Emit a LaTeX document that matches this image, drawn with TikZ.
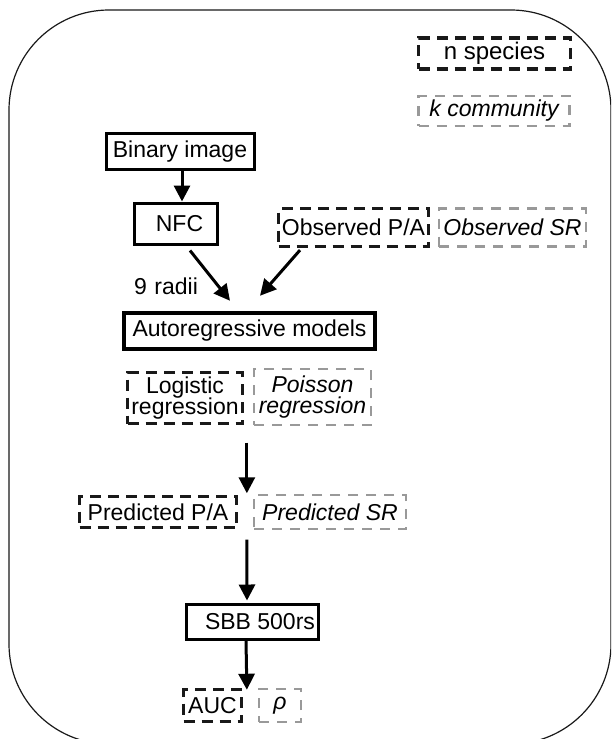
\documentclass[tikz,border=0pt]{standalone}
\usepackage{fontspec}
\setmainfont{Liberation Sans}
\usetikzlibrary{arrows.meta,calc}
\begin{document}
\begin{tikzpicture}[x=1pt,y=-1pt,
  every node/.style={font=\fontsize{23}{21.5}\selectfont, inner sep=0pt, align=center},
  solidbox/.style={draw=black, line width=3pt, rectangle},
  thickbox/.style={draw=black, line width=4.5pt, rectangle},
  blkdash/.style={draw=black!90, line width=3.2pt, dash pattern=on 11pt off 7pt},
  grydash/.style={draw=black!40, line width=2.7pt, dash pattern=on 10pt off 8pt, font=\fontsize{23}{21.5}\selectfont\itshape},
  arr/.style={line width=3pt, -{Triangle[width=16pt,length=16pt]}},
  frame/.style={draw=black!90, line width=1.2pt, rounded corners=100pt},
]
\useasboundingbox (0,0) rectangle (611,739);
\clip (0,0) rectangle (611,739);
\draw[frame] (9,10) rectangle (611,744);

% legend
\node[blkdash, minimum width=152pt, minimum height=31pt] (nsp) at (494.5,53.5) {\fontsize{24}{24}\selectfont n species};
\node[grydash, minimum width=151pt, minimum height=30pt] (kcom) at (494,111) {k community};

% flow
\node[solidbox, minimum width=148pt, minimum height=36pt] (bin) at (180,151.5) {Binary image};
\node[solidbox, minimum width=83pt, minimum height=41pt] (nfc) at (175.5,223.5) {\hspace*{8pt}NFC};
\node[blkdash, minimum width=150pt, minimum height=38pt] (obspa) at (353.5,227.5) {Observed P/A};
\node[grydash, minimum width=147pt, minimum height=38pt] (obssr) at (512.5,227.5) {Observed SR};
\node (radii) at (166,286) {9\,\,radii};
\node[thickbox, minimum width=251pt, minimum height=36pt] (auto) at (249.5,331) {Autoregressive models};
\node[blkdash, minimum width=115pt, minimum height=51pt] (log) at (185,398) {Logistic\\regression};
\node[grydash, minimum width=117pt, minimum height=56pt] (poi) at (312.5,397) {Poisson\\regression};
\node[blkdash, minimum width=157pt, minimum height=31pt] (predpa) at (158,512) {Predicted P/A};
\node[grydash, minimum width=152pt, minimum height=34pt] (predsr) at (330,512) {Predicted SR};
\node[solidbox, minimum width=132pt, minimum height=35pt] (sbb) at (252,621.5) {\hspace*{16pt}SBB 500rs};
\node[blkdash, minimum width=58pt, minimum height=32pt] (auc) at (212.5,705.5) {AUC};
\node[grydash, minimum width=42pt, minimum height=33pt] (rho) at (280,705.5) {ρ};

% connectors
\draw[arr] ([xshift=2pt]bin.south) -- ([xshift=6.5pt]nfc.north);
\draw[arr] ([xshift=14.5pt,yshift=-5pt]nfc.south) -- ([xshift=-19.5pt,yshift=10pt]auto.north);
\draw[arr] ([xshift=-53.5pt,yshift=-2pt]obspa.south) -- ([xshift=10.5pt,yshift=15pt]auto.north);
\draw[arr] ([yshift=-17pt,xshift=-1.5pt]$(log.south east)!0.5!(poi.south west)$) -- ([xshift=1.5pt,yshift=1pt]$(predpa.north east)!0.5!(predsr.north west)$);
\draw[arr] ([yshift=-10pt,xshift=1.5pt]$(predpa.south east)!0.5!(predsr.south west)$) -- ([xshift=-5pt,yshift=2pt]sbb.north);
\draw[arr] ([xshift=-6pt]sbb.south) -- ([xshift=-3.5pt,yshift=-2pt]$(auc.north east)!0.5!(rho.north west)$);
\end{tikzpicture}
\end{document}
